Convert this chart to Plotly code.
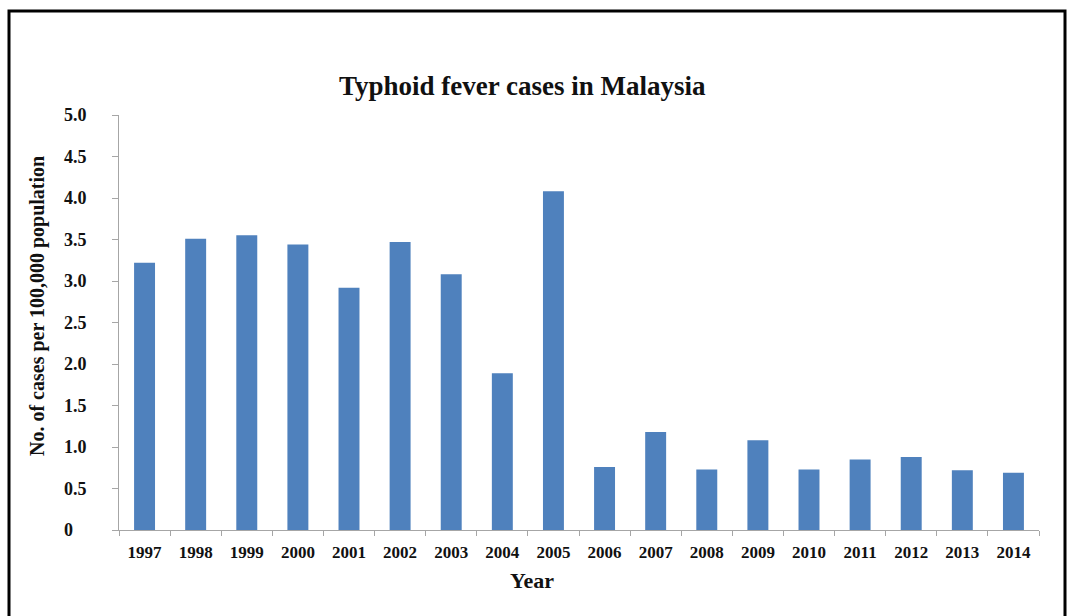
import plotly.graph_objects as go

# Typhoid incidence per 100,000 population, Malaysia
years = ["1997", "1998", "1999", "2000", "2001", "2002", "2003", "2004", "2005",
         "2006", "2007", "2008", "2009", "2010", "2011", "2012", "2013", "2014"]
cases = [3.22, 3.51, 3.55, 3.44, 2.92, 3.47, 3.08, 1.89, 4.08,
         0.76, 1.18, 0.73, 1.08, 0.73, 0.85, 0.88, 0.72, 0.69]

y_tickvals = [0, 0.5, 1.0, 1.5, 2.0, 2.5, 3.0, 3.5, 4.0, 4.5, 5.0]
y_ticktext = ["0", "0.5", "1.0", "1.5", "2.0", "2.5", "3.0", "3.5", "4.0", "4.5", "5.0"]

W, H = 1072, 616
L, R, T, B = 119, 33, 115, 86
pw, ph = W - L - R, H - T - B

def px_x(x):
    return (x - L) / pw

def px_y(y):
    return (H - B - y) / ph

SERIF = "Liberation Serif, Times New Roman, serif"
AXIS_GREY = "#a6a6a6"

fig = go.Figure(go.Bar(
    x=years, y=cases,
    marker=dict(color="#4f81bd", line=dict(width=0)),
    width=0.41,
))

annotations = []
# y tick labels, left aligned
for v, t in zip(y_tickvals, y_ticktext):
    annotations.append(dict(
        x=px_x(62), xref="paper", xanchor="left",
        y=v, yref="y", yanchor="middle",
        text=f"<b>{t}</b>", showarrow=False,
        font=dict(family=SERIF, size=18, color="#111"),
    ))
annotations.append(dict(
    x=px_x(37), xref="paper", xanchor="center",
    y=px_y(306), yref="paper", yanchor="middle",
    text="<b>No. of cases per 100,000 population</b>", textangle=-90,
    showarrow=False, font=dict(family=SERIF, size=20, color="#111"),
))
annotations.append(dict(
    x=px_x(532), xref="paper", xanchor="center",
    y=px_y(580), yref="paper", yanchor="middle",
    text="<b>Year</b>", showarrow=False,
    font=dict(family=SERIF, size=22, color="#111"),
))
annotations.append(dict(
    x=px_x(522), xref="paper", xanchor="center",
    y=px_y(86), yref="paper", yanchor="middle",
    text="<b>Typhoid fever cases in Malaysia</b>", showarrow=False,
    font=dict(family=SERIF, size=27, color="#111"),
))

fig.update_layout(
    width=W, height=H,
    margin=dict(l=L, r=R, t=T, b=B),
    paper_bgcolor="white", plot_bgcolor="white",
    showlegend=False,
    annotations=annotations,
    shapes=[dict(
        type="rect", xref="paper", yref="paper",
        x0=px_x(9), x1=px_x(1065), y0=px_y(625), y1=px_y(11),
        line=dict(color="black", width=3), fillcolor="rgba(0,0,0,0)",
    )],
    xaxis=dict(
        type="category",
        showline=True, linecolor=AXIS_GREY, linewidth=1,
        ticks="outside", tickson="boundaries", ticklen=5, tickcolor=AXIS_GREY,
        ticklabelstandoff=7,
        tickfont=dict(family=SERIF, size=17, color="#111", weight="bold"),
        showgrid=False, zeroline=False,
    ),
    yaxis=dict(
        range=[0, 5],
        tickvals=y_tickvals, showticklabels=False,
        showline=True, linecolor=AXIS_GREY, linewidth=1,
        ticks="outside", ticklen=6, tickcolor=AXIS_GREY,
        showgrid=False, zeroline=False,
    ),
)

fig.write_html("out.html")
